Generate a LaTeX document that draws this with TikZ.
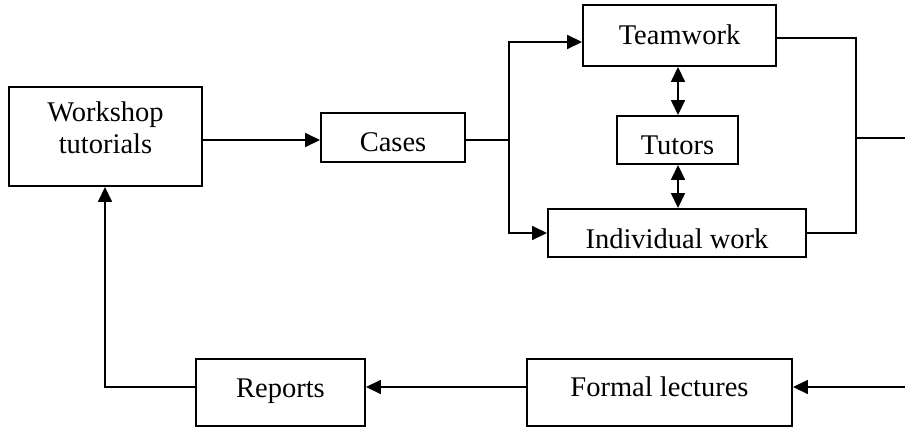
\documentclass[tikz,border=0pt]{standalone}
\usepackage{fontspec}
\setmainfont{Liberation Serif}
\usetikzlibrary{arrows.meta}
\begin{document}
\begin{tikzpicture}[x=1pt,y=-1pt,
  box/.style={draw,line width=1.9pt,inner sep=0pt,align=center,
    font=\fontsize{28.5pt}{32pt}\selectfont},
  th/.style={text height=#1,text depth=0pt},
  conn/.style={line width=1.6pt},
  tip/.tip={Triangle[length=15pt,width=14pt]},
  arr/.style={conn,-tip},
  darr/.style={conn,tip-tip}]
\useasboundingbox (0,0) rectangle (905,428);
\node[box,minimum width=193pt,minimum height=99pt] (ws) at (105.5,136.5)
  {\raisebox{5pt}[\height][\depth]{\begin{tabular}{@{}c@{}}Workshop\\tutorials\end{tabular}}};
\node[box,th=28pt,minimum width=144pt,minimum height=49pt] (cases) at (393,137.5) {Cases};
\node[box,th=18pt,minimum width=193pt,minimum height=61pt] (team) at (679.5,35.5) {Teamwork};
\node[box,th=28pt,minimum width=121pt,minimum height=48pt] (tut) at (677.5,140) {Tutors};
\node[box,th=31pt,minimum width=258pt,minimum height=48pt] (ind) at (677,233) {Individual work};
\node[box,th=9pt,minimum width=169pt,minimum height=67pt] (rep) at (280.5,392.5) {Reports};
\node[box,th=8pt,minimum width=265pt,minimum height=67pt] (formal) at (659.5,392.5) {Formal lectures};
\coordinate (split) at (509,140);
\coordinate (merge) at (856,138);
\coordinate (outR) at (905,138);
\coordinate (inR) at (905,387);
\coordinate (corner) at (105,387);
% workshop -> cases
\draw[arr] (ws.east |- split) -- (cases.west |- split);
% cases -> split
\draw[conn] (cases.east |- split) -- (split);
\draw[arr] (split) -- (split |- 0,42) -- (team.west |- 0,42);
\draw[arr] (split) -- (split |- ind.west) -- (ind.west);
% merge
\draw[conn] (team.east |- 0,38) -- (merge |- 0,38) -- (merge |- ind.east) -- (ind.east);
\draw[conn] (merge) -- (outR);
% tutors
\draw[darr] (team.south -| 678,0) -- (tut.north -| 678,0);
\draw[darr] (tut.south -| 678,0) -- (ind.north -| 678,0);
% bottom loop
\draw[arr] (inR) -- (formal.east |- inR);
\draw[arr] (formal.west |- inR) -- (rep.east |- inR);
\draw[arr] (rep.west |- inR) -- (corner) -- (ws.south -| corner);
\end{tikzpicture}
\end{document}
